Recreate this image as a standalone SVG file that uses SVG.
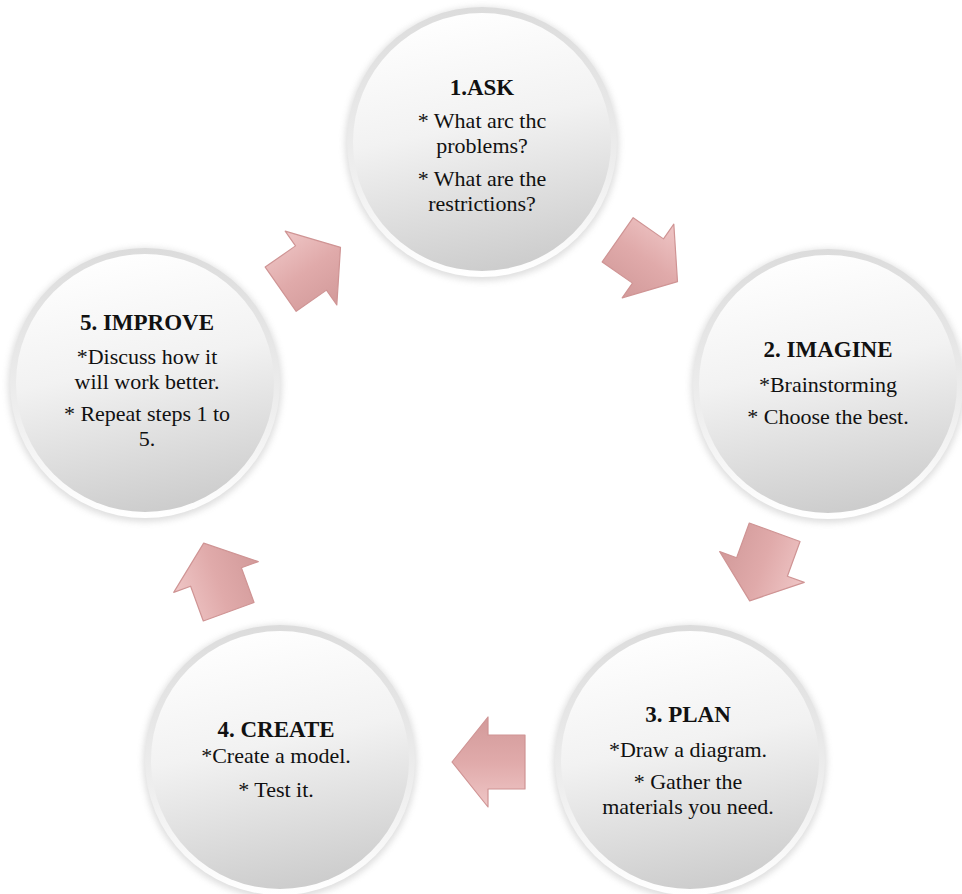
<svg xmlns="http://www.w3.org/2000/svg" width="962" height="894" viewBox="0 0 962 894">
<defs>
  <linearGradient id="rim" x1="0" y1="0" x2="0" y2="1">
    <stop offset="0" stop-color="#dcdcdc"/>
    <stop offset="0.6" stop-color="#eeeeee"/>
    <stop offset="1" stop-color="#ffffff"/>
  </linearGradient>
  <linearGradient id="face" x1="0.3" y1="0" x2="0.5" y2="1">
    <stop offset="0" stop-color="#ffffff"/>
    <stop offset="0.45" stop-color="#f2f2f2"/>
    <stop offset="1" stop-color="#cdcdcd"/>
  </linearGradient>
  <linearGradient id="arrowFill" x1="0" y1="0" x2="0" y2="1">
    <stop offset="0" stop-color="#efc6c6"/>
    <stop offset="0.5" stop-color="#e0aaaa"/>
    <stop offset="1" stop-color="#d29a9a"/>
  </linearGradient>
  <filter id="shadow" x="-20%" y="-20%" width="140%" height="140%">
    <feGaussianBlur stdDeviation="3"/>
  </filter>
  <g id="ball">
    <circle r="137" fill="#b8b8b8" opacity="0.45" filter="url(#shadow)" cy="2"/>
    <circle r="135" fill="url(#rim)"/>
    <circle r="129" fill="url(#face)"/>
  </g>
  <polygon id="arw" points="-37,-27 0,-27 0,-45 36,0 0,45 0,27 -37,27"/>
</defs>
<style>
  .t { font-family: "Liberation Serif", "Times New Roman", serif; font-size: 22px; fill: #111; text-anchor: middle; }
  .h { font-weight: bold; font-size: 23px; }
  .arrow use { fill: url(#arrowFill); stroke: #cf9494; stroke-width: 1.2; stroke-linejoin: round; }
</style>
<rect width="962" height="894" fill="#ffffff"/>

<g id="connectors" class="arrow">
  <use href="#arw" transform="translate(648,261) rotate(35)"/>
  <use href="#arw" transform="translate(762,567) rotate(110)"/>
  <use href="#arw" transform="translate(488,762) rotate(180)"/>
  <use href="#arw" transform="translate(216,577) rotate(-110)"/>
  <use href="#arw" transform="translate(311,268) rotate(-35)"/>
</g>

<g id="node1">
  <use href="#ball" transform="translate(482,142)"/>
  <text class="t h" x="482" y="95">1.ASK</text>
  <text class="t" x="482" y="128">* What arc thc</text>
  <text class="t" x="482" y="153">problems?</text>
  <text class="t" x="482" y="186">* What are the</text>
  <text class="t" x="482" y="211">restrictions?</text>
</g>

<g id="node2">
  <use href="#ball" transform="translate(828,384)"/>
  <text class="t h" x="828" y="357">2. IMAGINE</text>
  <text class="t" x="828" y="392">*Brainstorming</text>
  <text class="t" x="828" y="424">* Choose the best.</text>
</g>

<g id="node3">
  <use href="#ball" transform="translate(690,760)"/>
  <text class="t h" x="688" y="722">3. PLAN</text>
  <text class="t" x="688" y="757">*Draw a diagram.</text>
  <text class="t" x="688" y="789">* Gather the</text>
  <text class="t" x="688" y="814">materials you need.</text>
</g>

<g id="node4">
  <use href="#ball" transform="translate(280,760)"/>
  <text class="t h" x="276" y="737">4. CREATE</text>
  <text class="t" x="276" y="763">*Create a model.</text>
  <text class="t" x="276" y="797">* Test it.</text>
</g>

<g id="node5">
  <use href="#ball" transform="translate(145,383)"/>
  <text class="t h" x="147" y="330">5. IMPROVE</text>
  <text class="t" x="147" y="364">*Discuss how it</text>
  <text class="t" x="147" y="389">will work better.</text>
  <text class="t" x="147" y="421">* Repeat steps 1 to</text>
  <text class="t" x="147" y="446">5.</text>
</g>
</svg>
